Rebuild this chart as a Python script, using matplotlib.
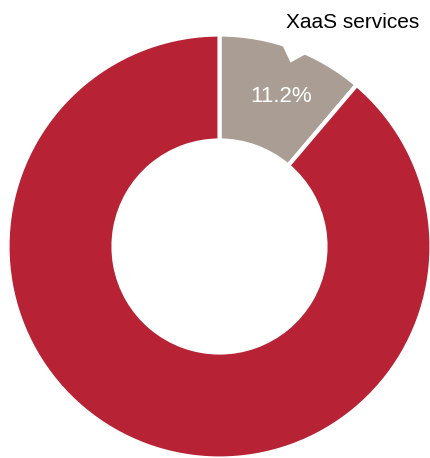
import matplotlib.pyplot as plt
import numpy as np

# доли сегментов
labels = ['XaaS services', 'Other']
shares = [11.2, 88.8]
colors = ['#a99d94', '#b82235']

plt.rcParams['font.family'] = ['Liberation Sans', 'DejaVu Sans']

fig = plt.figure(figsize=(4.31, 4.58), dpi=100)
ax = fig.add_axes([0, 0, 1, 1])

wedges, texts, autotexts = ax.pie(
    shares, colors=colors, startangle=90, counterclock=False,
    radius=1.0, autopct=lambda p: '%.1f%%' % p if p < 50 else '',
    pctdistance=0.765,
    wedgeprops=dict(width=0.5, edgecolor='white', linewidth=3),
    textprops=dict(color='white', fontsize=16))

# подпись процента чуть правее середины сектора
ang = np.deg2rad(90 - 22.4)
autotexts[0].set_position((0.765 * np.cos(ang), 0.765 * np.sin(ang)))

# белая выемка у внешнего края (след выноски подписи)
notch_ang = np.deg2rad(90 - np.array([17.1, 21.1, 24.4, 24.4, 17.1]))
notch_r = np.array([1.0, 0.93, 1.0, 1.05, 1.05])
ax.fill(notch_r * np.cos(notch_ang), notch_r * np.sin(notch_ang),
        color='white', lw=0, zorder=5)

# центр и радиус кольца в пикселях картинки
cx, cy, R = 219.5, 246.5, 212.0
ax.set_xlim(-cx / R, (431 - cx) / R)
ax.set_ylim(-(458 - cy) / R, cy / R)
ax.set_aspect('equal')
ax.axis('off')

ax.text((419 - cx) / R, (cy - 22) / R, labels[0], ha='right', va='center',
        fontsize=15, color='black')

plt.savefig('out.png', dpi=100)
